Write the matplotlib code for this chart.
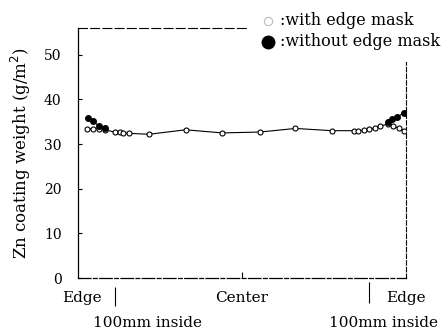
import matplotlib
matplotlib.use("Agg")
import matplotlib.pyplot as plt
import matplotlib.transforms as mtransforms

plt.rcParams["font.family"] = ["DejaVu Serif"]

# position across the strip width (mm from left edge), coating weight (g/m2)
pos_mask = [25, 41, 57, 73, 100, 114, 124, 139, 195, 295, 396, 499, 597, 697,
            757, 770, 784, 800, 815, 830, 850, 865, 880, 895]
wt_mask = [33.4, 33.4, 33.4, 33.2, 32.7, 32.6, 32.5, 32.4, 32.2, 33.2, 32.5, 32.7,
           33.5, 33.0, 33.0, 33.0, 33.1, 33.3, 33.6, 34.0, 34.5, 34.0, 33.6, 33.0]

pos_left = [26, 41, 57, 73]
wt_left = [35.8, 35.1, 34.1, 33.6]
pos_right = [850, 862, 877, 895]
wt_right = [35.0, 35.6, 36.1, 37.0]

inside_marks = [100, 800]

fig = plt.figure(figsize=(4.44, 3.33), dpi=100)
ax = fig.add_axes([0.176, 0.165, 0.738, 0.751])

ax.plot(pos_mask, wt_mask, color="black", lw=0.8, marker="o", ms=3.6,
        mfc="white", mec="black", mew=0.8, zorder=3)
ax.plot(pos_left, wt_left, color="black", lw=0.8, marker="o", ms=4.0,
        mfc="black", mec="black", zorder=4)
ax.plot(pos_right, wt_right, color="black", lw=0.8, marker="o", ms=4.0,
        mfc="black", mec="black", zorder=4)

ax.set_xlim(0, 900)
ax.set_ylim(0, 56)
ax.set_yticks([0, 10, 20, 30, 40, 50])
ax.tick_params(axis="y", direction="in", length=3, width=0.8, labelsize=10, pad=12)
ax.set_xticks([450])
ax.set_xticklabels([])
ax.tick_params(axis="x", direction="in", length=4, width=0.8)

ax.set_ylabel("Zn coating weight (g/m$^2$)", fontsize=12, labelpad=8)

ax.spines["left"].set_linewidth(0.9)
ax.spines["bottom"].set_linewidth(0.9)
ax.spines["bottom"].set_linestyle((0, (10, 2, 3, 2)))
ax.spines["top"].set_linewidth(0.8)
ax.spines["top"].set_linestyle((0, (8, 3)))
ax.spines["top"].set_bounds(0, 470)
ax.spines["right"].set_linewidth(0.8)
ax.spines["right"].set_linestyle((0, (4, 2)))
ax.spines["right"].set_bounds(0, 48.4)

trans = mtransforms.blended_transform_factory(ax.transData, ax.transAxes)
ax.vlines(inside_marks[0], -0.11, -0.035, transform=trans, color="black",
          lw=0.8, clip_on=False)
ax.vlines(inside_marks[1], -0.1, -0.016, transform=trans, color="black",
          lw=0.8, clip_on=False)

fig.text(0.185, 0.105, "Edge", ha="center", va="center", fontsize=11)
fig.text(0.545, 0.105, "Center", ha="center", va="center", fontsize=11)
fig.text(0.914, 0.105, "Edge", ha="center", va="center", fontsize=11)
fig.text(0.333, 0.03, "100mm inside", ha="center", va="center", fontsize=11)
fig.text(0.863, 0.03, "100mm inside", ha="center", va="center", fontsize=11)

# legend
fig.lines.append(plt.Line2D([0.603], [0.937], marker="o", ms=6, mfc="white",
                            mec="#bbbbbb", mew=0.8, transform=fig.transFigure))
fig.lines.append(plt.Line2D([0.604], [0.874], marker="o", ms=9, mfc="black",
                            mec="black", transform=fig.transFigure))
fig.text(0.630, 0.937, ":with edge mask", ha="left", va="center", fontsize=11.5)
fig.text(0.630, 0.874, ":without edge mask", ha="left", va="center", fontsize=11.5)

fig.savefig("out.png", dpi=100)
